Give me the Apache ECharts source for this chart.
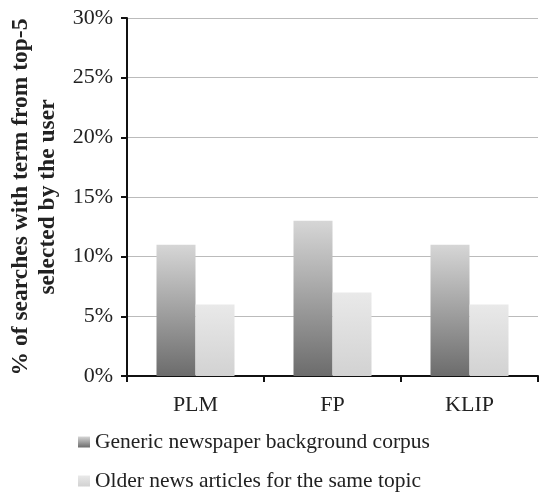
<!DOCTYPE html>
<html><head><meta charset="utf-8">
<script src="https://cdn.jsdelivr.net/npm/echarts@6/dist/echarts.min.js"></script>
<style>html,body{margin:0;padding:0;background:#fff}#c{width:540px;height:497px}</style>
</head><body><div id="c"></div>
<script>
const categories = ['PLM', 'FP', 'KLIP'];
const genericCorpus = [11, 13, 11];
const olderArticles = [6, 7, 6];
const seriesNames = ['Generic newspaper background corpus', 'Older news articles for the same topic'];

const font = '"Liberation Serif", "Times New Roman", serif';
const chart = echarts.init(document.getElementById('c'));
const grad = (a, b) => new echarts.graphic.LinearGradient(0, 0, 0, 1, [{offset: 0, color: a}, {offset: 1, color: b}]);
chart.setOption({
  animation: false,
  grid: {left: 127, right: 2, top: 18, bottom: 121, outerBoundsMode: 'none', containLabel: false},
  legend: {
    orient: 'vertical', left: 76, top: 429, height: 120, padding: 2, itemGap: 17,
    itemWidth: 12, itemHeight: 11, icon: 'rect',
    textStyle: {fontFamily: font, fontSize: 21.5, color: '#222'},
    data: seriesNames
  },
  xAxis: {
    type: 'category', data: categories,
    axisLine: {lineStyle: {color: '#111', width: 2}},
    axisTick: {show: true, length: 6, lineStyle: {color: '#111', width: 2}},
    axisLabel: {fontFamily: font, fontSize: 22, color: '#222', margin: 18}
  },
  yAxis: {
    type: 'value', min: 0, max: 30, interval: 5,
    name: '% of searches with term from top-5\nselected by the user',
    nameLocation: 'middle', nameGap: 59, nameRotate: 90,
    nameTextStyle: {fontFamily: font, fontSize: 23.5, fontWeight: 'bold', color: '#222', lineHeight: 27},
    axisLine: {show: true, lineStyle: {color: '#111', width: 2}},
    axisTick: {show: true, length: 6, lineStyle: {color: '#111', width: 2}},
    axisLabel: {fontFamily: font, fontSize: 22, color: '#222', formatter: '{value}%', margin: 14},
    splitLine: {lineStyle: {color: '#bbb', width: 1}}
  },
  series: [
    {name: seriesNames[0], type: 'bar', data: genericCorpus, barWidth: 39, barGap: '0%',
     itemStyle: {color: grad('#d6d6d6', '#6c6c6c')}},
    {name: seriesNames[1], type: 'bar', data: olderArticles, barWidth: 39,
     itemStyle: {color: grad('#e9e9e9', '#d2d2d2')}}
  ]
});
</script></body></html>
